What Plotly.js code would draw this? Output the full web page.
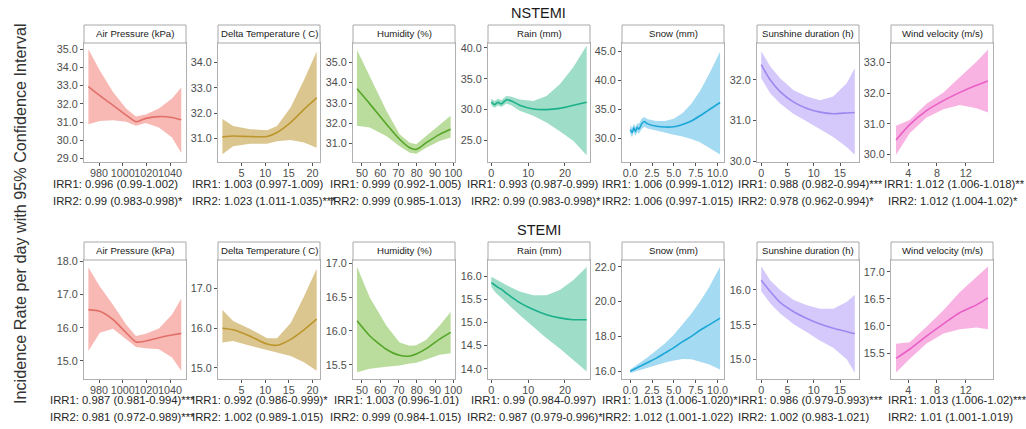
<!DOCTYPE html>
<html><head><meta charset="utf-8">
<script src="https://cdn.plot.ly/plotly-3.0.1.min.js"></script>
<style>html,body{margin:0;padding:0;background:#fff;} #chart{width:1026px;height:429px;}</style>
</head><body><div id="chart"></div>
<script>
// ---------- categories ----------
const variables = ["Air Pressure (kPa)", "Delta Temperature ( C)", "Humidity (%)", "Rain (mm)", "Snow (mm)", "Sunshine duration (h)", "Wind velocity (m/s)"];
const outcomes = ["NSTEMI", "STEMI"];
const yAxisTitle = "Incidence Rate per day with 95% Confidence Interval";

// ---------- x values per variable ----------
const airX  = [971, 980.7, 991.8, 1002.9, 1011.2, 1019.5, 1030.6, 1041.7, 1049.5];
const dtX   = [0.93, 3.2, 6.8, 10.4, 12.5, 15.4, 18.2, 20.9];
const humX  = [47.3, 54.2, 63.3, 70.6, 76.1, 79.7, 85.2, 92.5, 98.5];
const rainX = [0, 0.9, 1.8, 2.7, 4.1, 5.5, 7.7, 11.4, 15, 18.6, 22.3, 25.9];
const snowX = [0, 0.2, 0.4, 0.6, 0.8, 1.0, 1.3, 1.6, 2.0, 3.0, 4.0, 5.0, 6.0, 7.0, 8.0, 9.0, 10.3];
const sunX  = [0, 1.7, 3.6, 6.1, 8.7, 11.2, 13.7, 16.3, 17.8];
const windX = [2.3, 4.2, 6.5, 8.9, 11.2, 13.5, 15.1];

// ---------- NSTEMI ----------
const nAirFit = [32.95, 32.45, 31.92, 31.38, 31.02, 31.2, 31.3, 31.25, 31.12];
const nAirHi  = [35.0, 33.83, 32.65, 31.75, 31.3, 31.42, 31.75, 32.29, 32.9];
const nAirLo  = [30.88, 31.06, 31.1, 31.02, 30.8, 30.95, 30.7, 30.15, 29.3];

const nDtFit = [31.07, 31.1, 31.08, 31.08, 31.24, 31.64, 32.15, 32.6];
const nDtHi  = [31.77, 31.5, 31.37, 31.33, 31.5, 32.23, 33.3, 34.43];
const nDtLo  = [30.38, 30.7, 30.8, 30.8, 30.9, 30.95, 30.85, 30.64];

const nHumFit = [33.7, 32.97, 31.97, 31.22, 30.8, 30.72, 31.05, 31.46, 31.71];
const nHumHi  = [35.6, 34.3, 32.63, 31.47, 31.05, 30.97, 31.38, 31.88, 32.37];
const nHumLo  = [31.88, 31.8, 31.38, 30.88, 30.55, 30.5, 30.8, 31.13, 31.3];

const nRainFit = [31.2, 30.8, 31.2, 30.9, 31.6, 31.4, 30.7, 30.1, 30.0, 30.2, 30.7, 31.2];
const nRainHi  = [31.75, 31.4, 31.75, 31.5, 32.2, 32.1, 31.65, 31.4, 32.2, 34.1, 36.9, 40.4];
const nRainLo  = [30.65, 30.3, 30.65, 30.4, 31.0, 30.65, 29.8, 29.0, 27.9, 26.5, 24.9, 22.6];

const nSnowFit = [31.5, 31.0, 31.8, 31.2, 31.9, 31.6, 32.5, 32.9, 32.5, 32.1, 31.95, 32.0, 32.4, 33.0, 33.9, 34.9, 36.2];
const nSnowHi  = [32.3, 31.8, 32.5, 32.0, 32.6, 32.5, 33.4, 33.7, 33.3, 33.0, 33.0, 33.4, 34.4, 36.0, 38.2, 41.0, 45.0];
const nSnowLo  = [30.7, 30.2, 31.0, 30.4, 31.1, 30.8, 31.6, 32.0, 31.7, 31.3, 31.0, 30.6, 30.3, 29.9, 29.3, 28.4, 27.2];

const nSunFit = [32.37, 32.0, 31.71, 31.46, 31.3, 31.21, 31.17, 31.19, 31.2];
const nSunHi  = [32.7, 32.33, 32.04, 31.75, 31.59, 31.5, 31.59, 31.92, 32.29];
const nSunLo  = [32.04, 31.67, 31.42, 31.17, 30.98, 30.8, 30.6, 30.35, 30.17];

const nWindFit = [30.48, 30.98, 31.43, 31.76, 32.03, 32.26, 32.4];
const nWindHi  = [30.94, 31.13, 31.65, 32.03, 32.53, 33.03, 33.42];
const nWindLo  = [30.0, 30.7, 31.2, 31.48, 31.62, 31.51, 31.37];

// ---------- STEMI ----------
const sAirFit = [16.55, 16.5, 16.25, 15.85, 15.57, 15.6, 15.7, 15.78, 15.83];
const sAirHi  = [17.82, 17.25, 16.7, 16.1, 15.75, 15.82, 15.98, 16.4, 16.88];
const sAirLo  = [15.3, 15.85, 15.97, 15.65, 15.42, 15.38, 15.35, 15.1, 14.7];

const sDtFit = [16.0, 15.96, 15.8, 15.6, 15.57, 15.72, 15.96, 16.23];
const sDtHi  = [16.46, 16.18, 15.98, 15.75, 15.75, 16.13, 16.8, 17.5];
const sDtLo  = [15.64, 15.68, 15.56, 15.45, 15.4, 15.3, 15.14, 14.93];

const sHumFit = [16.15, 15.93, 15.73, 15.64, 15.63, 15.66, 15.74, 15.88, 15.98];
const sHumHi  = [16.95, 16.5, 16.08, 15.83, 15.78, 15.79, 15.87, 16.08, 16.28];
const sHumLo  = [15.39, 15.44, 15.47, 15.49, 15.52, 15.53, 15.58, 15.65, 15.67];

const sRainFit = [15.86, 15.81, 15.76, 15.72, 15.63, 15.55, 15.43, 15.28, 15.17, 15.1, 15.06, 15.06];
const sRainHi  = [15.99, 15.95, 15.9, 15.86, 15.81, 15.75, 15.67, 15.59, 15.59, 15.7, 15.92, 16.2];
const sRainLo  = [15.77, 15.67, 15.6, 15.53, 15.43, 15.33, 15.16, 14.91, 14.66, 14.44, 14.19, 13.94];

const sSnowFit = [16.0, 16.05, 16.1, 16.15, 16.2, 16.25, 16.32, 16.4, 16.5, 16.75, 17.05, 17.35, 17.7, 18.0, 18.35, 18.65, 19.05];
const sSnowHi  = [16.1, 16.17, 16.24, 16.31, 16.38, 16.45, 16.55, 16.66, 16.8, 17.2, 17.6, 18.1, 18.7, 19.3, 20.0, 20.8, 22.0];
const sSnowLo  = [15.9, 15.93, 15.96, 15.99, 16.02, 16.05, 16.1, 16.15, 16.22, 16.35, 16.5, 16.62, 16.7, 16.68, 16.55, 16.4, 16.1];

const sSunFit = [16.14, 15.98, 15.82, 15.69, 15.59, 15.51, 15.45, 15.4, 15.37];
const sSunHi  = [16.34, 16.14, 16.0, 15.86, 15.78, 15.73, 15.73, 15.83, 15.93];
const sSunLo  = [15.98, 15.81, 15.66, 15.51, 15.39, 15.27, 15.17, 15.0, 14.81];

const sWindFit = [15.4, 15.57, 15.81, 16.04, 16.25, 16.39, 16.52];
const sWindHi  = [15.67, 15.7, 15.98, 16.29, 16.63, 16.91, 17.1];
const sWindLo  = [15.14, 15.39, 15.67, 15.86, 15.94, 15.97, 15.94];

// ---------- IRR labels ----------
const nIrr1 = ["IRR1: 0.996 (0.99-1.002)", "IRR1: 1.003 (0.997-1.009)", "IRR1: 0.999 (0.992-1.005)", "IRR1: 0.993 (0.987-0.999)", "IRR1: 1.006 (0.999-1.012)", "IRR1: 0.988 (0.982-0.994)***", "IRR1: 1.012 (1.006-1.018)**"];
const nIrr2 = ["IRR2: 0.99 (0.983-0.998)*", "IRR2: 1.023 (1.011-1.035)***", "IRR2: 0.999 (0.985-1.013)", "IRR2: 0.99 (0.983-0.998)*", "IRR2: 1.006 (0.997-1.015)", "IRR2: 0.978 (0.962-0.994)*", "IRR2: 1.012 (1.004-1.02)*"];
const sIrr1 = ["IRR1: 0.987 (0.981-0.994)***", "IRR1: 0.992 (0.986-0.999)*", "IRR1: 1.003 (0.996-1.01)", "IRR1: 0.99 (0.984-0.997)", "IRR1: 1.013 (1.006-1.020)*", "IRR1: 0.986 (0.979-0.993)***", "IRR1: 1.013 (1.006-1.02)***"];
const sIrr2 = ["IRR2: 0.981 (0.972-0.989)***", "IRR2: 1.002 (0.989-1.015)", "IRR2: 0.999 (0.984-1.015)", "IRR2: 0.987 (0.979-0.996)*", "IRR2: 1.012 (1.001-1.022)", "IRR2: 1.002 (0.983-1.021)", "IRR2: 1.01 (1.001-1.019)"];

// ---------- tick labels ----------
const xTicks = [[980, 1000, 1020, 1040], [5, 10, 15, 20], [50, 60, 70, 80, 90, 100], [0, 10, 20], [0, 2.5, 5, 7.5, 10], [0, 5, 10, 15], [4, 8, 12]];
const nYTicks = [[29, 30, 31, 32, 33, 34, 35], [31, 32, 33, 34], [31, 32, 33, 34, 35], [25, 30, 35, 40], [30, 35, 40, 45], [30, 31, 32], [30, 31, 32, 33]];
const sYTicks = [[15, 16, 17, 18], [15, 16, 17], [15.5, 16, 16.5, 17], [14, 14.5, 15, 15.5, 16], [16, 18, 20, 22], [15, 15.5, 16], [15.5, 16, 16.5, 17]];

// ---------- assembly ----------
const xs = [airX, dtX, humX, rainX, snowX, sunX, windX];
const series = [
  [[nAirFit, nAirLo, nAirHi], [nDtFit, nDtLo, nDtHi], [nHumFit, nHumLo, nHumHi], [nRainFit, nRainLo, nRainHi], [nSnowFit, nSnowLo, nSnowHi], [nSunFit, nSunLo, nSunHi], [nWindFit, nWindLo, nWindHi]],
  [[sAirFit, sAirLo, sAirHi], [sDtFit, sDtLo, sDtHi], [sHumFit, sHumLo, sHumHi], [sRainFit, sRainLo, sRainHi], [sSnowFit, sSnowLo, sSnowHi], [sSunFit, sSunLo, sSunHi], [sWindFit, sWindLo, sWindHi]]
];
const irr = [[nIrr1, nIrr2], [sIrr1, sIrr2]];
const yTicks = [nYTicks, sYTicks];

// styles / layout geometry
const W = 1026, H = 429;
const FONT = '"Liberation Sans", Arial, sans-serif';
const TICK = 10.8, IRRF = 11.3;
const lineColors = ['#E2706A', '#BC962C', '#55A628', '#1CB08A', '#1BA7D8', '#9D88F1', '#E95FC6'];
const bandColors = ['#F8B9B4', '#DCC690', '#BADC9C', '#9EDDC8', '#A4DAF2', '#D5C9FB', '#F8B3E3'];
const panelLeft = [84, 218, 353, 488, 622, 757, 891];
const panelW = 102;
const textCenter = [114.5, 257, 395, 532, 667, 803, 949];
const xRanges = [[967.3, 1053.5], [0, 21.6], [45.1, 100.9], [-0.9, 26.8], [-0.95, 10.75], [-0.8, 18.6], [1.6, 15.8]];
const yRanges = [
  [[28.8, 35.35], [30.08, 34.76], [30.1, 35.95], [21.5, 40.8], [25.9, 46.5], [29.99, 32.9], [29.76, 33.64]],
  [[14.45, 18.05], [14.72, 17.72], [15.29, 17.05], [13.78, 16.35], [15.55, 22.39], [14.72, 16.43], [15.02, 17.22]]
];
const rowGeom = [
  {stripTop: 25, top: 43, bottom: 162, title: 13, irr: [184, 201]},
  {stripTop: 242, top: 260, bottom: 379, title: 230, irr: [400, 417]}
];

const px = v => v / W;
const py = v => 1 - v / H;

// Arial/Liberation Sans advance widths (em) for the characters used in the IRR labels
const charEm = {'0': .556, '1': .556, '2': .556, '3': .556, '4': .556, '5': .556, '6': .556, '7': .556, '8': .556, '9': .556,
  '.': .278, ' ': .278, ':': .278, '(': .333, ')': .333, '-': .333, 'I': .278, 'R': .722, '*': .389};
function textWidth(s, size) { let w = 0; for (const ch of s) w += (charEm[ch] || .556); return w * size; }

const traces = [];
const layout = {
  width: W, height: H, margin: {l: 0, r: 0, t: 0, b: 0},
  paper_bgcolor: '#fff', plot_bgcolor: '#fff', showlegend: false,
  font: {family: FONT, color: '#4d4d4d', size: TICK},
  shapes: [], annotations: []
};

let k = 0;
for (let r = 0; r < 2; r++) {
  const g = rowGeom[r];
  layout.annotations.push({text: outcomes[r], xref: 'paper', yref: 'paper', x: px(538.5), y: py(g.title),
    xanchor: 'center', yanchor: 'middle', showarrow: false, font: {size: 14.5, color: '#1a1a1a', family: FONT}});
  for (let p = 0; p < 7; p++) {
    k++;
    const xa = k === 1 ? 'x' : 'x' + k;
    const ya = k === 1 ? 'y' : 'y' + k;
    const [fit, lo, hi] = series[r][p];
    const x = xs[p];
    traces.push({x: x, y: lo, xaxis: xa, yaxis: ya, mode: 'lines', line: {width: 0, color: bandColors[p]}, hoverinfo: 'skip'});
    traces.push({x: x, y: hi, xaxis: xa, yaxis: ya, mode: 'lines', line: {width: 0, color: bandColors[p]}, fill: 'tonexty', fillcolor: bandColors[p], hoverinfo: 'skip'});
    traces.push({x: x, y: fit, xaxis: xa, yaxis: ya, mode: 'lines', line: {width: 1.6, color: lineColors[p], shape: 'spline', smoothing: 0.6}});

    const left = panelLeft[p], right = left + panelW;
    const axCommon = {showgrid: false, zeroline: false, showline: true, mirror: true, linecolor: '#b0b0b0', linewidth: 1,
      ticks: 'outside', ticklen: 3, tickcolor: '#555', tickwidth: 1, tickfont: {size: TICK, color: '#4d4d4d', family: FONT}, fixedrange: true};
    layout['xaxis' + (k === 1 ? '' : k)] = Object.assign({}, axCommon, {
      domain: [px(left), px(right)], anchor: ya, range: xRanges[p], tickmode: 'array', tickvals: xTicks[p],
      ticktext: xTicks[p].map(v => p === 4 ? v.toFixed(1) : String(v)), tickangle: 0, ticklabelstandoff: -2});
    layout['yaxis' + (k === 1 ? '' : k)] = Object.assign({}, axCommon, {
      domain: [py(g.bottom), py(g.top)], anchor: xa, range: yRanges[r][p], tickmode: 'array', tickvals: yTicks[r][p],
      ticktext: yTicks[r][p].map(v => v.toFixed(1))});

    // strip
    layout.shapes.push({type: 'rect', xref: 'paper', yref: 'paper', x0: px(left), x1: px(right), y0: py(g.top), y1: py(g.stripTop),
      fillcolor: '#ffffff', line: {color: '#a8a8a8', width: 1}});
    layout.annotations.push({text: variables[p], xref: 'paper', yref: 'paper', x: px((left + right) / 2), y: py((g.stripTop + g.top) / 2),
      xanchor: 'center', yanchor: 'middle', showarrow: false, font: {size: 9.6, color: '#1a1a1a', family: FONT}});

    // IRR texts
    for (let j = 0; j < 2; j++) {
      const s = irr[r][j][p];
      const main = s.replace(/\*+$/, '');
      const start = textCenter[p] - textWidth(main, IRRF) / 2;
      layout.annotations.push({text: s, xref: 'paper', yref: 'paper', x: px(start), y: py(g.irr[j]),
        xanchor: 'left', yanchor: 'middle', showarrow: false, borderpad: 0, font: {size: IRRF, color: '#262626', family: FONT}});
    }
  }
}

layout.annotations.push({text: yAxisTitle, xref: 'paper', yref: 'paper', x: px(20), y: py(214), textangle: -90,
  xanchor: 'center', yanchor: 'middle', showarrow: false, font: {size: 16.2, color: '#333', family: FONT}});

Plotly.newPlot('chart', traces, layout, {staticPlot: true, displayModeBar: false});
</script>
</body></html>
